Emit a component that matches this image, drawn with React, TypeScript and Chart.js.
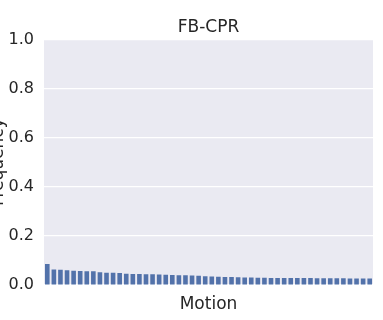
import React, { useEffect, useRef } from "react";
import { Chart, registerables } from "chart.js";

Chart.register(...registerables);

const motions: string[] = [
  "M01", "M02", "M03", "M04", "M05", "M06", "M07", "M08", "M09", "M10",
  "M11", "M12", "M13", "M14", "M15", "M16", "M17", "M18", "M19", "M20",
  "M21", "M22", "M23", "M24", "M25", "M26", "M27", "M28", "M29", "M30",
  "M31", "M32", "M33", "M34", "M35", "M36", "M37", "M38", "M39", "M40",
  "M41", "M42", "M43", "M44", "M45", "M46", "M47", "M48", "M49", "M50",
];

const frequency: number[] = [
  0.085, 0.063, 0.062, 0.060, 0.058, 0.057, 0.056, 0.056, 0.052, 0.050,
  0.050, 0.049, 0.046, 0.045, 0.045, 0.044, 0.044, 0.043, 0.042, 0.041,
  0.040, 0.040, 0.039, 0.038, 0.036, 0.035, 0.034, 0.033, 0.033, 0.032,
  0.031, 0.031, 0.030, 0.030, 0.029, 0.029, 0.029, 0.028, 0.028, 0.028,
  0.028, 0.027, 0.027, 0.027, 0.027, 0.027, 0.026, 0.026, 0.026, 0.026,
];

const yTicks: number[] = [0, 0.2, 0.4, 0.6, 0.8, 1.0];

const titleText = "FB-CPR";
const xTitle = "Motion";
const yTitle = "Frequency";

const FONT = "'DejaVu Sans', sans-serif";
const TEXT = "#262626";

const bgPlugin = {
  id: "bgPlugin",
  beforeDraw(chart: any) {
    const { ctx, chartArea } = chart;
    ctx.save();
    ctx.fillStyle = "#EAEAF2";
    ctx.fillRect(chartArea.left, chartArea.top, chartArea.right - chartArea.left, chartArea.bottom - chartArea.top);
    ctx.restore();
  },
};

export default function App() {
  const ref = useRef<HTMLCanvasElement | null>(null);
  useEffect(() => {
    if (!ref.current) return;
    const chart = new Chart(ref.current, {
      type: "bar",
      data: {
        labels: motions,
        datasets: [
          {
            data: frequency,
            backgroundColor: "#5272AA",
            borderWidth: 0,
            barPercentage: 0.7,
            categoryPercentage: 1,
          },
        ],
      },
      options: {
        animation: false,
        responsive: true,
        maintainAspectRatio: false,
        layout: { padding: { left: 0, right: 10, top: 0, bottom: 0 } },
        plugins: {
          legend: { display: false },
          tooltip: { enabled: false },
          title: {
            display: true,
            text: titleText,
            color: TEXT,
            fullSize: false,
            font: { family: FONT, size: 17, weight: "normal" },
            padding: { top: 17, bottom: 2 },
          },
        },
        scales: {
          x: {
            offset: true,
            ticks: { display: false },
            grid: { display: false },
            border: { display: false },
            title: {
              display: true,
              text: xTitle,
              color: TEXT,
              font: { family: FONT, size: 17 },
              padding: { top: 0, bottom: 4.8 },
            },
            afterFit(scale: any) {
              scale.height = 35;
            },
          },
          y: {
            min: 0,
            max: 1,
            afterBuildTicks(scale: any) {
              scale.ticks = yTicks.map((v) => ({ value: v }));
            },
            ticks: {
              color: TEXT,
              padding: 10,
              font: { family: FONT, size: 16 },
              callback: (v: any) => Number(v).toFixed(1),
            },
            grid: { color: "#FFFFFF", lineWidth: 1.2, drawTicks: false },
            border: { display: false },
            title: {
              display: true,
              text: yTitle,
              color: TEXT,
              font: { family: FONT, size: 17 },
              padding: 0,
            },
            afterFit(scale: any) {
              scale.width = 56;
            },
          },
        },
      },
      plugins: [bgPlugin],
    });
    return () => chart.destroy();
  }, []);
  return (
    <div style={{ position: "absolute", left: -12, top: 0, width: 395, height: 320 }}>
      <canvas ref={ref} />
    </div>
  );
}
